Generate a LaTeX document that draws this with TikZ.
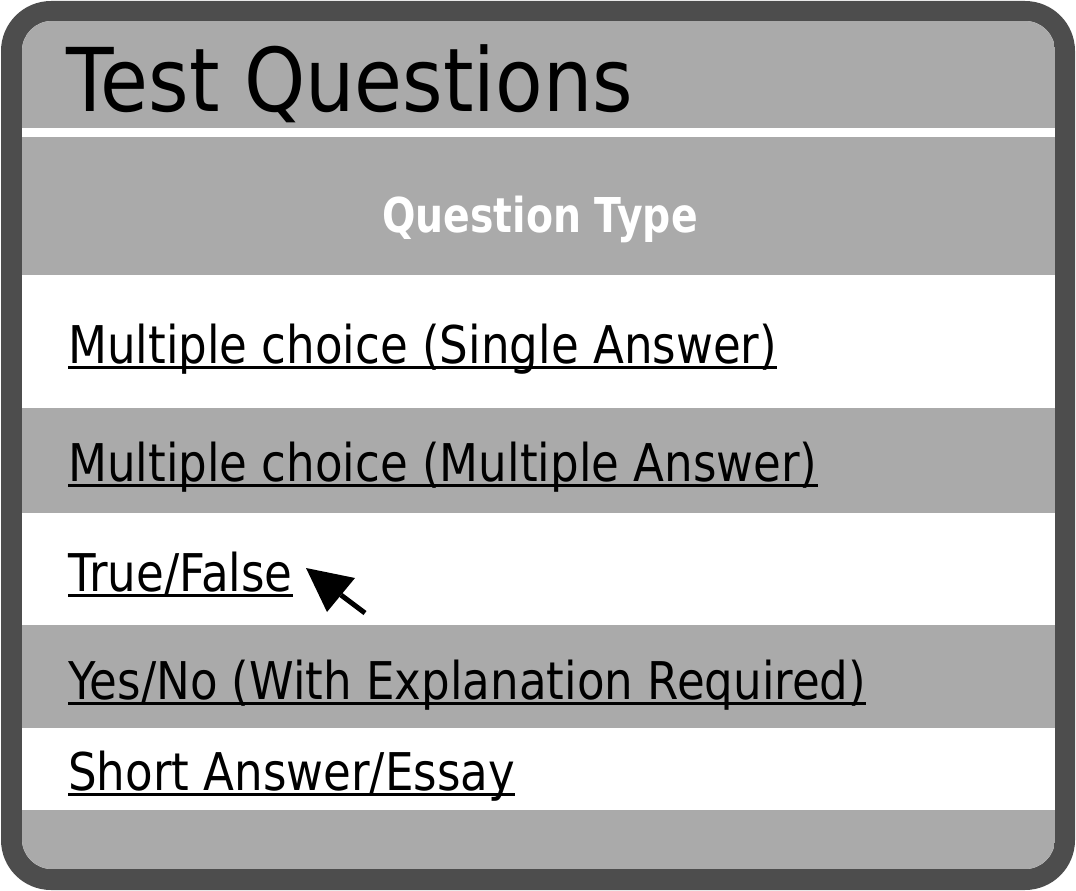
\documentclass[tikz,border=0pt]{standalone}
\usepackage{fontspec}
\setmainfont{DejaVu Sans}
\newfontfamily\titlefont[FakeStretch=0.885]{DejaVu Sans}
\newfontfamily\rowfont[FakeStretch=0.868]{DejaVu Sans}
\newfontfamily\hdrfont[FakeStretch=0.82]{DejaVu Sans Bold}
\usetikzlibrary{arrows.meta}
\definecolor{frame}{HTML}{4D4D4D}
\definecolor{band}{HTML}{AAAAAA}
\tikzset{
  rowtext/.style={anchor=base west, inner sep=0pt, font=\rowfont\fontsize{52}{60}\selectfont, text=black},
  uline/.style={line width=3pt, black},
}
\begin{document}
\begin{tikzpicture}[x=1pt,y=-1pt]
\useasboundingbox (0,0) rectangle (1076,891);
% frame
\fill[frame, rounded corners=50pt] (1,1) rectangle (1075,890);
\begin{scope}
\clip[rounded corners=30pt] (22,21) rectangle (1055,869);
\fill[white] (22,21) rectangle (1055,869);
\fill[band] (22,21) rectangle (1055,128);
\fill[band] (22,137) rectangle (1055,275);
\fill[band] (22,408) rectangle (1055,513);
\fill[band] (22,625) rectangle (1055,728);
\fill[band] (22,810) rectangle (1055,869);
\end{scope}
% title
\node[anchor=base west, inner sep=0pt, font=\titlefont\fontsize{88}{100}\selectfont] (title) at (66,111) {Test Questions};
\node[anchor=base, inner sep=0pt, font=\hdrfont\fontsize{48}{56}\selectfont, text=white] (hdr) at (540,232) {Question Type};
% rows
\node[rowtext] (r1) at (68,363) {Multiple choice (Single Answer)};
\node[rowtext] (r2) at (68,481) {Multiple choice (Multiple Answer)};
\node[rowtext] (r3) at (68,591) {True/False};
\node[rowtext] (r4) at (68,699) {Yes/No (With Explanation Required)};
\node[rowtext] (r5) at (68,790) {Short Answer/Essay};
\foreach \r in {r1,r2,r3,r4,r5}{
  \draw[uline] ([yshift=-4pt]\r.base west) -- ([yshift=-4pt]\r.base east);
}
% cursor arrow
\coordinate (tip) at (306,568);
\coordinate (c1) at (355,578);
\coordinate (c2) at (327,612);
\coordinate (bmid) at (341,595);
\coordinate (tail) at (365,613);
\fill[black] (tip) -- (c1) -- (c2) -- cycle;
\draw[line width=5pt, black] (bmid) -- (tail);
\end{tikzpicture}
\end{document}
